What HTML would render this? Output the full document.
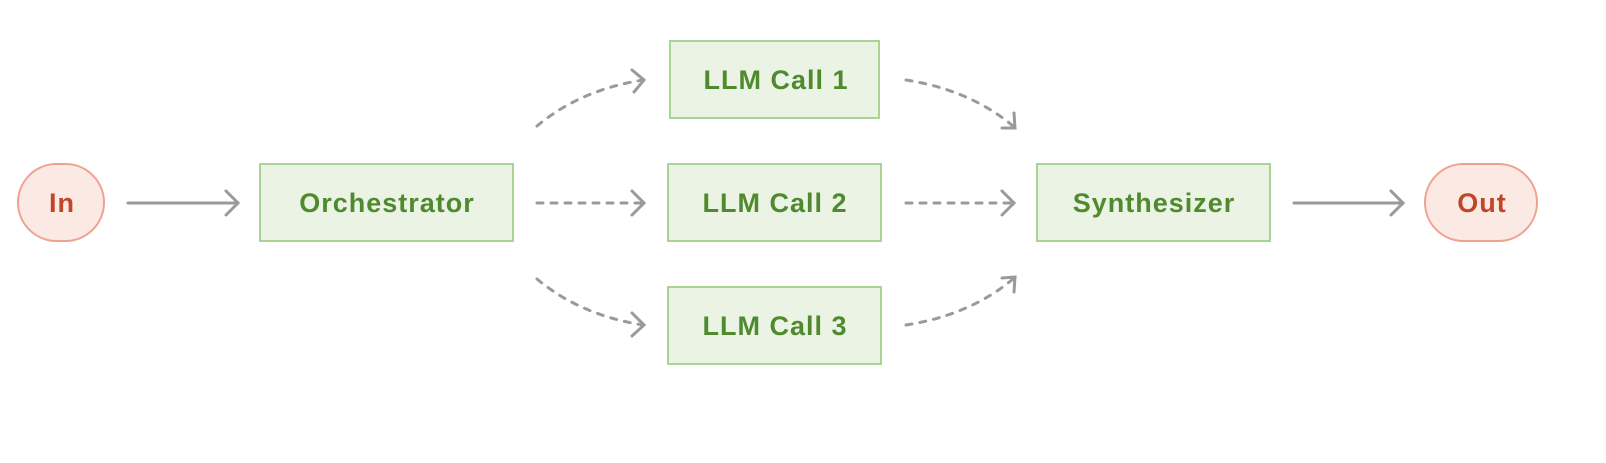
<!DOCTYPE html>
<html><head><meta charset="utf-8"><style>
body{margin:0;background:#fff;width:1606px;height:458px;overflow:hidden}
svg text{font-family:"Liberation Sans",sans-serif;font-weight:bold;font-size:27px;letter-spacing:1px;text-anchor:middle;dominant-baseline:central}
</style></head><body>
<svg width="1606" height="458" viewBox="0 0 1606 458">
<g fill="#ebf3e5" stroke="#a9d494" stroke-width="2">
<rect x="260" y="164" width="253" height="77"/>
<rect x="670" y="41" width="209" height="77"/>
<rect x="668" y="164" width="213" height="77"/>
<rect x="668" y="287" width="213" height="77"/>
<rect x="1037" y="164" width="233" height="77"/>
</g>
<g fill="#fbe9e4" stroke="#eea28f" stroke-width="2">
<rect x="18" y="164" width="86" height="77" rx="38.5"/>
<rect x="1425" y="164" width="112" height="77" rx="38.5"/>
</g>
<g fill="#4f8a2f">
<text x="387" y="203">Orchestrator</text>
<text x="776" y="80">LLM Call 1</text>
<text x="775" y="203">LLM Call 2</text>
<text x="775" y="326">LLM Call 3</text>
<text x="1154" y="203">Synthesizer</text>
</g>
<g fill="#c0452a">
<text x="62" y="203">In</text>
<text x="1482" y="203">Out</text>
</g>
<g fill="none" stroke="#9a9a98" stroke-width="3" stroke-linecap="round">
<path d="M128 203H238M1294 203H1403"/>
<path d="M226 191L238 203L226 215M1391 191L1403 203L1391 215"/>
<g stroke-dasharray="6 8">
<path d="M537 203H643M906 203H1013"/>
<path d="M537 126Q580 90 643 80"/>
<path d="M906 80Q970 90 1013 126"/>
<path d="M537 279Q580 315 643 325"/>
<path d="M906 325Q970 315 1013 279"/>
</g>
<path d="M632 191L644 203L632 215M1002 191L1014 203L1002 215"/>
<path d="M632 70L644 80L634 92"/>
<path d="M632 313L644 325L632 336"/>
<path d="M1014 113L1015 128L1002 128"/>
<path d="M1002 278L1015 277L1014 292"/>
</g>
</svg>
</body></html>
